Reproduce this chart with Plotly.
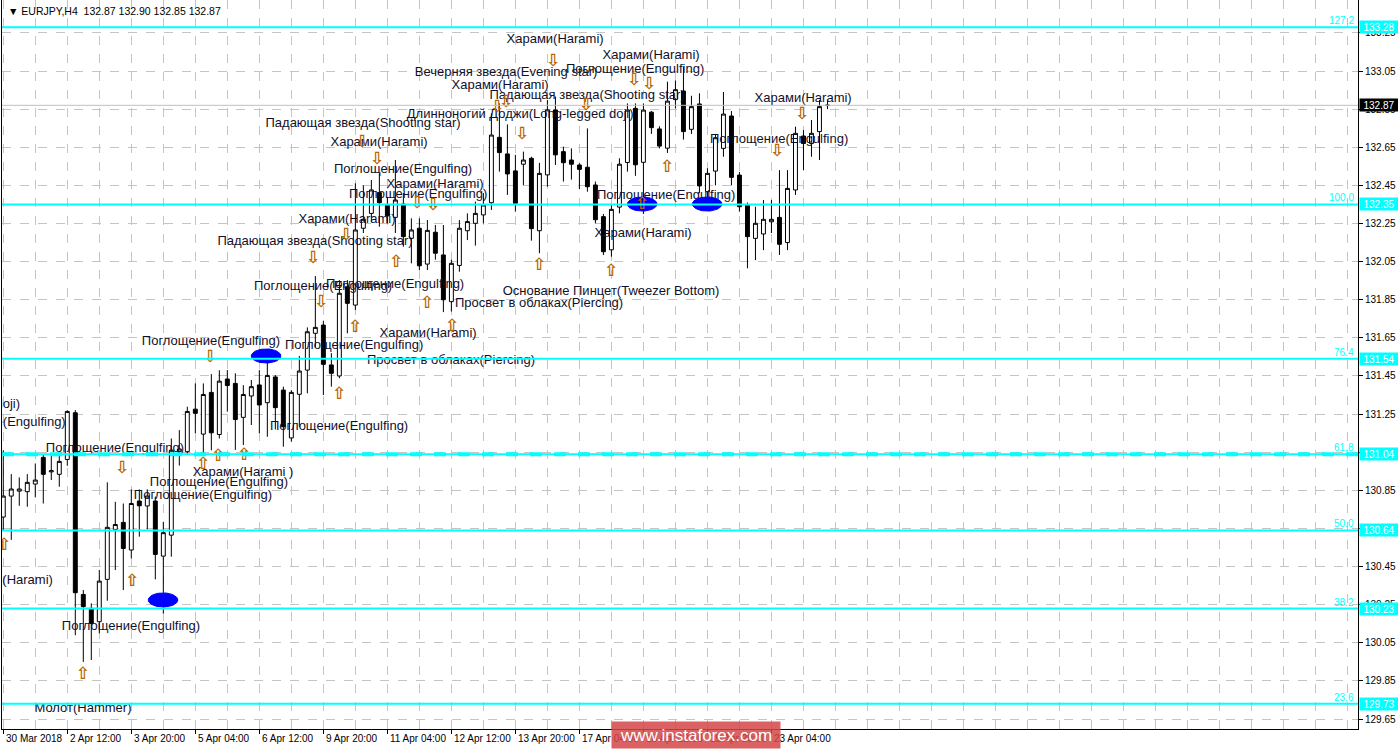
import numpy as np
import plotly.graph_objects as go

# ---------------- data ----------------
opens = [130.71, 130.82, 130.846, 130.843, 130.883, 131.023, 130.947, 130.934, 131.012, 131.257,
         130.304, 130.231, 130.161, 130.383, 130.645, 130.682, 130.537, 130.794, 130.768, 130.794,
         130.505, 130.615, 131.053, 131.053, 131.276, 131.145, 131.364, 131.143, 131.434, 131.411,
         131.233, 131.345, 131.403, 131.31, 131.445, 131.376, 131.125, 131.354, 131.481, 131.674,
         131.717, 131.508, 131.45, 131.918, 131.822, 132.225, 132.303, 132.412, 132.35, 132.282,
         132.352, 132.172, 132.225, 132.037, 132.204, 132.085, 131.84, 132.03, 132.212, 132.251,
         132.295, 132.359, 132.702, 132.615, 132.526, 132.561, 132.592, 132.212, 132.505, 132.846,
         132.627, 132.583, 132.557, 132.545, 132.452, 132.286, 132.112, 132.336, 132.57, 132.854,
         132.571, 132.834, 132.746, 132.645, 132.9, 132.945, 132.744, 132.877, 132.417, 132.525,
         132.644, 132.814, 132.504, 132.347, 132.172, 132.195, 132.259, 132.282, 132.15, 132.426,
         132.709, 132.67, 132.732, 132.87]
highs = [131.06, 130.935, 130.918, 130.935, 130.991, 131.04, 131.035, 131.044, 131.27, 131.271,
         130.327, 130.257, 130.432, 130.892, 130.79, 130.781, 130.855, 130.855, 130.855, 130.817,
         130.685, 131.122, 131.166, 131.289, 131.411, 131.411, 131.46, 131.48, 131.481, 131.464,
         131.402, 131.429, 131.481, 131.543, 131.455, 131.394, 131.376, 131.555, 131.705, 131.974,
         131.74, 131.57, 131.953, 131.953, 132.461, 132.45, 132.478, 132.513, 132.39, 132.583,
         132.41, 132.277, 132.277, 132.268, 132.242, 132.242, 132.06, 132.268, 132.303, 132.365,
         132.41, 132.828, 132.88, 132.77, 132.61, 132.627, 132.6, 132.568, 132.898, 132.916,
         132.653, 132.644, 132.566, 132.749, 132.47, 132.30, 132.347, 132.592, 132.88, 132.88,
         132.88, 132.84, 132.76, 132.994, 133.0, 133.073, 132.92, 132.933, 132.54, 132.72,
         132.94, 132.84, 132.52, 132.36, 132.338, 132.373, 132.373, 132.53, 132.53, 132.758,
         132.74, 132.793, 132.898, 132.90]
lows = [130.64, 130.59, 130.769, 130.764, 130.813, 130.781, 130.904, 130.869, 130.979, 130.09,
        129.95, 129.96, 130.10, 130.271, 130.432, 130.327, 130.493, 130.607, 130.645, 130.383,
        130.204, 130.502, 130.98, 131.04, 131.15, 131.03, 131.06, 131.122, 131.263, 131.062,
        131.088, 131.193, 131.15, 131.131, 131.17, 131.079, 131.105, 131.184, 131.359, 131.6,
        131.35, 131.394, 131.438, 131.674, 131.796, 132.2, 132.26, 132.233, 132.25, 132.2,
        132.128, 132.041, 132.006, 132.006, 132.06, 131.785, 131.788, 131.997, 132.163, 132.134,
        132.25, 132.321, 132.522, 132.40, 132.312, 132.45, 132.16, 132.094, 132.443, 132.557,
        132.47, 132.48, 132.43, 132.417, 132.25, 132.085, 132.076, 132.303, 132.522, 132.5,
        132.30, 132.72, 132.644, 132.62, 132.854, 132.69, 132.72, 132.41, 132.338, 132.45,
        132.60, 132.45, 132.312, 132.015, 132.058, 132.11, 132.2, 132.085, 132.11, 132.40,
        132.53, 132.6, 132.583, 132.85]
closes = [130.82, 130.857, 130.857, 130.892, 130.904, 130.934, 130.953, 131.002, 131.264, 130.313,
          130.24, 130.152, 130.374, 130.656, 130.671, 130.545, 130.781, 130.769, 130.82, 130.514,
          130.628, 131.061, 131.067, 131.264, 131.254, 131.353, 131.152, 131.423, 131.40, 131.222,
          131.353, 131.394, 131.298, 131.453, 131.284, 131.184, 131.364, 131.476, 131.682, 131.705,
          131.511, 131.464, 131.884, 131.831, 132.216, 132.272, 132.426, 132.359, 132.29, 132.373,
          132.181, 132.216, 132.028, 132.214, 132.094, 131.85, 132.041, 132.225, 132.26, 132.303,
          132.347, 132.714, 132.622, 132.51, 132.356, 132.583, 132.223, 132.513, 132.846, 132.61,
          132.569, 132.561, 132.534, 132.443, 132.27, 132.102, 132.324, 132.561, 132.845, 132.558,
          132.845, 132.753, 132.656, 132.892, 132.952, 132.732, 132.863, 132.447, 132.513, 132.70,
          132.824, 132.492, 132.338, 132.181, 132.251, 132.272, 132.272, 132.141, 132.434, 132.723,
          132.67, 132.723, 132.863, 132.87]
bars = list(range(len(opens)))

time_labels = ["30 Mar 2018", "2 Apr 12:00", "3 Apr 20:00", "5 Apr 04:00", "6 Apr 12:00",
               "9 Apr 20:00", "11 Apr 04:00", "12 Apr 12:00", "13 Apr 20:00", "17 Apr 04:00",
               "18 Apr 12:00", "19 Apr 20:00", "23 Apr 04:00"]
time_label_bars = [0, 8, 16, 24, 32, 40, 48, 56, 64, 72, 80, 88, 96]

price_ticks = [129.65, 129.85, 130.05, 130.25, 130.45, 130.65, 130.85, 131.05, 131.25,
               131.45, 131.65, 131.85, 132.05, 132.25, 132.45, 132.65, 132.85, 133.05, 133.25]

fib_levels = ["127.2", "100.0", "76.4", "61.8", "50.0", "38.2", "23.6"]
fib_prices = [133.28, 132.35, 131.54, 131.04, 130.64, 130.23, 129.73]

bid_price = 132.87
symbol_header = "▼ EURJPY,H4  132.87 132.90 132.85 132.87"

pattern_text = ["Харами(Harami)", "Харами(Harami)", "Вечерняя звезда(Evening star)",
                "Поглощение(Engulfing)", "Харами(Harami)", "Падающая звезда(Shooting star)",
                "Длинноногий Доджи(Long-legged doji)", "Харами(Harami)",
                "Падающая звезда(Shooting star)", "Харами(Harami)", "Поглощение(Engulfing)",
                "Харами(Harami)", "Поглощение(Engulfing)", "Поглощение(Engulfing)",
                "Поглощение(Engulfing)", "Харами(Harami)", "Основание Пинцет(Tweezer Bottom)",
                "Просвет в облаках(Piercing)", "Харами(Harami)", "Харами(Harami)",
                "Падающая звезда(Shooting star)", "Поглощение(Engulfing)", "Поглощение(Engulfing)",
                "Поглощение(Engulfing)", "Поглощение(Engulfing)", "Просвет в облаках(Piercing)",
                "Поглощение(Engulfing)", "Поглощение(Engulfing)", "Харами(Harami )",
                "Поглощение(Engulfing)", "Поглощение(Engulfing)", "Поглощение(Engulfing)",
                "Молот(Hammer)"]
pattern_bar = [68.96, 80.96, 62.84, 78.96, 62.09, 72.96, 64.6, 99.96, 44.96, 46.96, 49.96,
               53.96, 51.84, 96.96, 82.84, 79.96, 75.96, 66.96, 53.09, 42.96, 38.96, 39.96,
               48.96, 25.96, 43.84, 55.96, 41.96, 13.96, 29.96, 26.96, 24.96, 15.96, 9.96]
pattern_price = [133.213, 133.129, 133.039, 133.055, 132.971, 132.919, 132.819, 132.903,
                 132.772, 132.672, 132.531, 132.452, 132.399, 132.688, 132.394, 132.195,
                 131.890, 131.828, 131.670, 132.268, 132.153, 131.917, 131.927, 131.628,
                 131.607, 131.528, 131.182, 131.067, 130.941, 130.888, 130.820, 130.133, 129.703]

cut_text = ["Длинноногий Доджи(Long-legged doji)", "Поглощение(Engulfing)", "Харами(Harami)"]
cut_bar = [2.1, 7.8, 6.2]
cut_price = [131.297, 131.203, 130.374]

down_bar = [68.71, 78.84, 80.71, 62.84, 61.71, 72.84, 64.84, 99.84, 96.71, 51.71, 53.71,
            44.84, 46.71, 42.84, 38.71, 39.71, 25.84, 14.84]
down_price = [133.097, 132.998, 132.977, 132.882, 132.856, 132.866, 132.714, 132.819, 132.625,
              132.352, 132.342, 132.672, 132.583, 132.184, 132.064, 131.833, 131.544, 130.962]
up_bar = [82.96, 79.84, 66.96, 75.96, 52.96, 56.09, 49.09, 43.96, 41.96, 26.84, 30.09, 24.96,
          0.09, 16.09, 9.96]
up_price = [132.541, 132.347, 132.027, 131.995, 131.828, 131.707, 132.043, 131.701, 131.350,
            131.025, 131.030, 130.983, 130.558, 130.369, 129.881]

ellipse_bar = [19.96, 32.84, 79.84, 87.96]
ellipse_price = [130.275, 131.555, 132.352, 132.352]

# ---------------- figure ----------------
X_MIN, X_MAX = -0.16, 169.3
Y_MIN, Y_MAX = 129.598, 133.4225
TEXT_FONT = "Liberation Sans, Arial, sans-serif"

fig = go.Figure()

fig.add_trace(go.Scatter(x=pattern_bar, y=pattern_price, mode="text", text=pattern_text,
                         textposition="middle center", cliponaxis=True, hoverinfo="skip",
                         showlegend=False,
                         textfont=dict(family=TEXT_FONT, size=13, color="#10102a")))
fig.add_trace(go.Scatter(x=cut_bar, y=cut_price, mode="text", text=cut_text,
                         textposition="middle left", cliponaxis=True, hoverinfo="skip",
                         showlegend=False,
                         textfont=dict(family=TEXT_FONT, size=13, color="#10102a")))

fig.add_trace(go.Candlestick(
    x=bars, open=opens, high=highs, low=lows, close=closes,
    increasing=dict(line=dict(color="black", width=1), fillcolor="white"),
    decreasing=dict(line=dict(color="black", width=1), fillcolor="black"),
    whiskerwidth=0, showlegend=False, hoverinfo="skip"))

t = np.linspace(0, 2 * np.pi, 64)
for cx, cy in zip(ellipse_bar, ellipse_price):
    fig.add_trace(go.Scatter(x=cx + 1.85 * np.cos(t), y=cy + 0.037 * np.sin(t), mode="lines",
                             fill="toself", fillcolor="#0000ff",
                             line=dict(color="#0000ff", width=1),
                             hoverinfo="skip", showlegend=False))

ARROW_FONT = dict(family="DejaVu Sans", size=17, color="#b86800", weight="bold")
fig.add_trace(go.Scatter(x=down_bar, y=down_price, mode="text", text=["⇩"] * len(down_bar),
                         textposition="middle center", cliponaxis=True, hoverinfo="skip",
                         showlegend=False, textfont=ARROW_FONT))
fig.add_trace(go.Scatter(x=up_bar, y=up_price, mode="text", text=["⇧"] * len(up_bar),
                         textposition="middle center", cliponaxis=True, hoverinfo="skip",
                         showlegend=False, textfont=ARROW_FONT))

# fibonacci levels
for lvl, p in zip(fib_levels, fib_prices):
    fig.add_shape(type="line", xref="paper", yref="y", x0=0, x1=1, y0=p, y1=p,
                  line=dict(color="#00ffff", width=2), layer="above")
    if lvl == "61.8":
        fig.add_shape(type="line", xref="paper", yref="y", x0=0, x1=1, y0=p, y1=p,
                      line=dict(color="#00ffff", width=4, dash="dash"), layer="above")
    fig.add_annotation(x=X_MAX - 0.3, y=p, xref="x", yref="y", text=lvl, showarrow=False,
                       xanchor="right", yanchor="bottom", yshift=-1,
                       font=dict(family=TEXT_FONT, size=10, color="#00ffff"))
    fig.add_annotation(x=1, y=p, xref="paper", yref="y", text=f"{p:.2f}", showarrow=False,
                       xanchor="left", yanchor="middle", xshift=1, bgcolor="#00ffff",
                       width=38, height=12, borderpad=0,
                       font=dict(family=TEXT_FONT, size=10, color="white"))

# bid line
fig.add_shape(type="line", xref="paper", yref="y", x0=0, x1=1, y0=bid_price, y1=bid_price,
              line=dict(color="#c0c0c0", width=1), layer="above")
fig.add_annotation(x=1, y=bid_price, xref="paper", yref="y", text=f"{bid_price:.2f}",
                   showarrow=False, xanchor="left", yanchor="middle", xshift=1,
                   bgcolor="black", width=38, height=12, borderpad=0,
                   font=dict(family=TEXT_FONT, size=10, color="white"))

# time labels
for lab, b in zip(time_labels, time_label_bars):
    fig.add_annotation(x=b, y=0, xref="x", yref="paper", text=lab, showarrow=False,
                       xanchor="left", yanchor="top", xshift=1, yshift=-2,
                       font=dict(family=TEXT_FONT, size=10, color="black"))

# header
fig.add_annotation(x=0.003, y=1, xref="paper", yref="paper", text=symbol_header,
                   showarrow=False, xanchor="left", yanchor="top", yshift=-3,
                   font=dict(family=TEXT_FONT, size=10.5, color="black"))

# watermark
fig.add_annotation(x=(696 - 2) / 1356, y=-6 / 729, xref="paper", yref="paper",
                   text="www.instaforex.com", showarrow=False, xanchor="center",
                   yanchor="middle", width=168, height=26, borderpad=0,
                   bgcolor="rgba(212,70,70,0.85)",
                   font=dict(family=TEXT_FONT, size=17, color="white"))

fig.update_layout(
    width=1398, height=749,
    margin=dict(l=2, r=40, t=0, b=20, pad=0),
    paper_bgcolor="white", plot_bgcolor="white",
    showlegend=False,
    xaxis=dict(range=[X_MIN, X_MAX], rangeslider=dict(visible=False), type="linear",
               tickvals=time_label_bars, showticklabels=False, ticks="outside", ticklen=4,
               tickcolor="black", showgrid=False, zeroline=False,
               showline=True, linecolor="black", linewidth=1, mirror=True,
               minor=dict(dtick=4, tick0=0, showgrid=True, gridcolor="#c4c4c4",
                          griddash="dash", gridwidth=1, ticks="")),
    yaxis=dict(range=[Y_MIN, Y_MAX], side="right", tickvals=price_ticks,
               ticktext=[f"{v:.2f}" for v in price_ticks], ticks="outside", ticklen=4,
               tickcolor="black", showgrid=True, gridcolor="#c4c4c4", griddash="dash",
               gridwidth=1, zeroline=False, showline=True, linecolor="black", linewidth=1,
               mirror=True, tickfont=dict(family=TEXT_FONT, size=10, color="black")),
)

fig.write_html("out.html", config={"displayModeBar": False},
               post_script="document.body.style.margin='0px';document.body.style.padding='0px';")
